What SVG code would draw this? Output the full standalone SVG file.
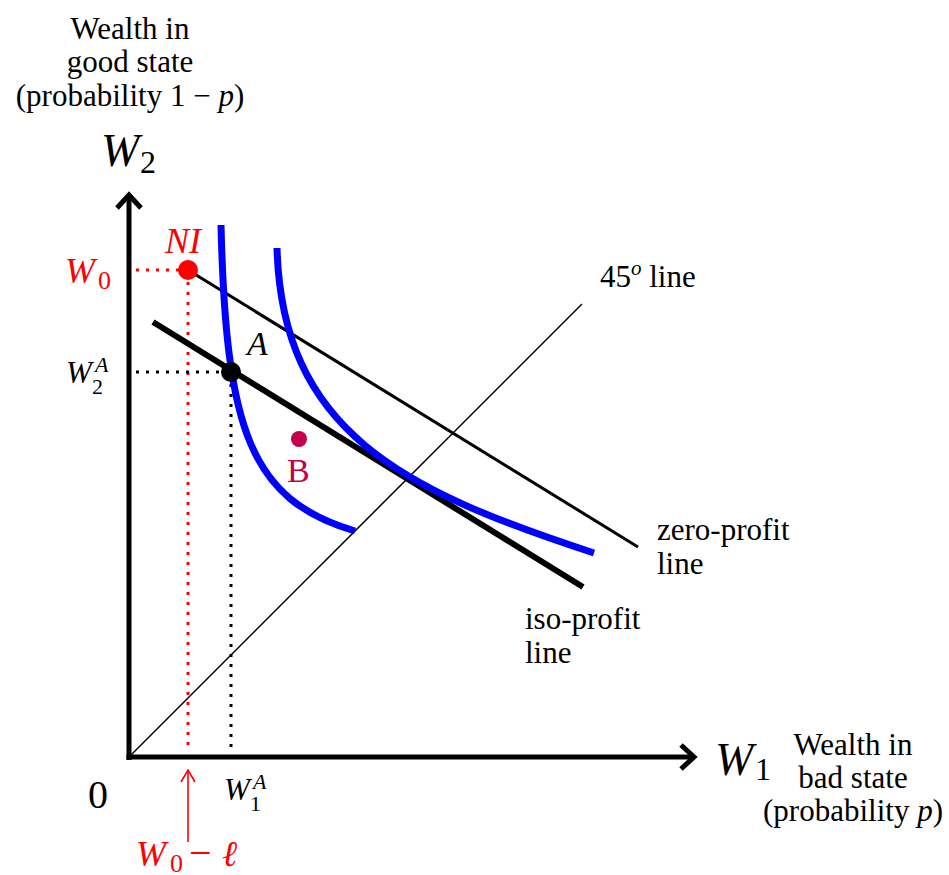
<svg xmlns="http://www.w3.org/2000/svg" width="949" height="875" viewBox="0 0 949 875" font-family="'Liberation Serif','Times New Roman','DejaVu Serif',serif">
<style>
text,tspan{font-family:'Liberation Serif','Times New Roman','DejaVu Serif',serif}
text{fill:#000}
.it{font-style:italic}
.red{fill:#ff0000}
.lbl{font-size:31px}
.ax{stroke:#000;stroke-width:5;fill:none;stroke-linecap:butt}
.blue{stroke:#0000ff;stroke-width:7;fill:none}
.dotk{stroke:#000;stroke-width:3;stroke-dasharray:3 7;fill:none}
.dotr{stroke:#ff0000;stroke-width:3;stroke-dasharray:3 7;fill:none}
</style>
<rect width="949" height="875" fill="#fff"/>

<g id="connectors">
  <line class="ax" x1="129" y1="760" x2="129" y2="197"/>
  <path class="ax" d="M117,208 L129,195 L141,208"/>
  <line class="ax" x1="126.5" y1="757" x2="692" y2="757"/>
  <path class="ax" d="M681,745 L694,757 L681,769"/>
  <line x1="129" y1="757" x2="582" y2="304" stroke="#000" stroke-width="1.5"/>
  <line class="dotr" x1="136" y1="270" x2="180" y2="270"/>
  <line class="dotr" x1="188" y1="282" x2="188" y2="752"/>
  <line class="dotk" x1="136" y1="372" x2="224" y2="372"/>
  <line class="dotk" x1="231" y1="384" x2="231" y2="752"/>
  <line x1="188" y1="270" x2="638" y2="547" stroke="#000" stroke-width="3"/>
  <line x1="153" y1="322" x2="583" y2="587" stroke="#000" stroke-width="6"/>
  <path class="blue" d="M221,225 C226,430 250,500 355,531"/>
  <path class="blue" d="M277,248 C282,430 400,490 594,553"/>
  <line x1="188" y1="842" x2="188" y2="771" stroke="#ff0000" stroke-width="1.6"/>
  <path d="M181,782 L188,770 L195,782" stroke="#ff0000" stroke-width="1.6" fill="none"/>
</g>

<g id="node-NI">
  <circle cx="188" cy="270" r="10" fill="#ff0000"/>
  <text class="it red" x="165" y="253" font-size="36">NI</text>
</g>
<g id="node-A">
  <circle cx="231" cy="372" r="10" fill="#000"/>
  <text class="it" x="247" y="355" font-size="34">A</text>
</g>
<g id="node-B">
  <circle cx="299" cy="439" r="8" fill="#c4004a"/>
  <text x="287" y="482" font-size="34" style="fill:#c4004a">B</text>
</g>

<g id="label-ylabel">
  <text class="lbl" x="130" y="39" text-anchor="middle">Wealth in</text>
  <text class="lbl" x="130" y="72" text-anchor="middle">good state</text>
  <text class="lbl" x="130" y="106" text-anchor="middle">(probability 1 − <tspan class="it">p</tspan>)</text>
</g>
<g id="label-W2">
  <text class="it" x="101" y="166" font-size="46">W</text>
  <text x="140" y="173" font-size="32">2</text>
</g>
<g id="label-W0">
  <text class="it red" x="65" y="283" font-size="36">W</text>
  <text class="red" x="98" y="289" font-size="26">0</text>
</g>
<g id="label-W2A">
  <text class="it" x="66" y="383" font-size="31">W</text>
  <text class="it" x="95" y="372" font-size="22">A</text>
  <text x="92" y="394" font-size="22">2</text>
</g>
<g id="label-45">
  <text class="lbl" x="600" y="287">45<tspan class="it" font-size="21" dy="-12">o</tspan><tspan dy="12"> line</tspan></text>
</g>
<g id="label-zero">
  <text class="lbl" x="657" y="540">zero-profit</text>
  <text class="lbl" x="657" y="574">line</text>
</g>
<g id="label-iso">
  <text class="lbl" x="525" y="629">iso-profit</text>
  <text class="lbl" x="525" y="663">line</text>
</g>
<g id="label-W1">
  <text class="it" x="715" y="775" font-size="46">W</text>
  <text x="755" y="780" font-size="32">1</text>
</g>
<g id="label-xlabel">
  <text class="lbl" x="853" y="755" text-anchor="middle">Wealth in</text>
  <text class="lbl" x="853" y="788" text-anchor="middle">bad state</text>
  <text class="lbl" x="853" y="821" text-anchor="middle">(probability <tspan class="it">p</tspan>)</text>
</g>
<g id="label-0">
  <text x="88" y="808" font-size="40">0</text>
</g>
<g id="label-W1A">
  <text class="it" x="224" y="800" font-size="31">W</text>
  <text class="it" x="253" y="789" font-size="22">A</text>
  <text x="250" y="811" font-size="22">1</text>
</g>
<g id="label-W0l">
  <text class="it red" x="136" y="866" font-size="36">W</text>
  <text class="red" x="170" y="872" font-size="26">0</text>
  <text class="red" x="189" y="866" font-size="40">−</text>
  <text class="it red" x="222" y="866" font-size="36">ℓ</text>
</g>
</svg>
